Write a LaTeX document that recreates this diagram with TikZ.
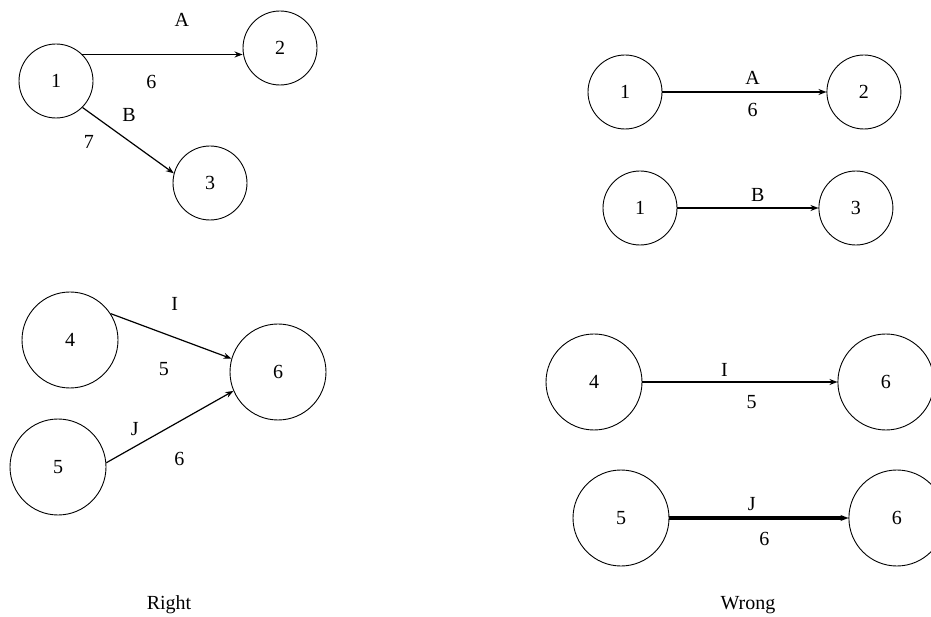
\documentclass[tikz,border=0pt]{standalone}
\usepackage{fontspec}
\setmainfont{Liberation Serif}
\usetikzlibrary{arrows.meta, positioning}

\begin{document}
\begin{tikzpicture}[
  x=1pt, y=1pt,
  font=\fontsize{20}{24}\selectfont,
  >={Stealth[length=8pt, width=6pt]},
  evento/.style={circle, draw, line width=0.9pt, inner sep=0pt, minimum size=74pt},
  eventog/.style={evento, minimum size=96pt},
  flecha/.style={->, line width=1.2pt},
  gruesa/.style={->, line width=3.5pt},
  etiq/.style={inner sep=1pt},
]
\useasboundingbox (0,0) rectangle (931,616);

% --- Izquierda: Right ---
\node[evento] (r1) at (56,535) {1};
\node[evento] (r2) at (280,568) {2};
\node[evento] (r3) at (210,433) {3};
\node[eventog] (r4) at (70,276) {4};
\node[eventog] (r5) at (58,149) {5};
\node[eventog] (r6) at (278,244) {6};

\draw[flecha] (r1.45) -- node[etiq, pos=.62, above=26pt] (lA) {A} node[etiq, pos=.43, below=19pt] (dA) {6} (r1.45 -| r2.west);
\draw[flecha] (r1.-45) -- node[etiq, pos=.51, above=18pt] (lB) {B} node[etiq, pos=.07, below=22pt] (dB) {7} (r3.165);
\draw[flecha] (r4.33) -- node[etiq, pos=.53, above=25pt] (lI) {I} node[etiq, pos=.44, below=27pt] (dI) {5} (r6.164);
\draw[flecha] (r5.5) -- node[etiq, pos=.225, above=9pt] (lJ) {J} node[etiq, pos=.575, below=29pt] (dJ) {6} (r6.203);

% --- Derecha: Wrong ---
\node[evento] (w1) at (625,524) {1};
\node[evento, right=164pt of w1] (w2) {2};
\node[evento] (w1b) at (640,408) {1};
\node[evento, right=141pt of w1b] (w3) {3};
\node[eventog] (w4) at (594,234) {4};
\node[eventog, right=195pt of w4] (w6a) {6};
\node[eventog] (w5) at (621,98) {5};
\node[eventog, right=179pt of w5] (w6b) {6};

\draw[flecha] (w1) -- node[etiq, pos=.55, above=6pt] (wlA) {A} node[etiq, pos=.55, below=10pt] (wdA) {6} (w2);
\draw[flecha] (w1b) -- node[etiq, pos=.57, above=5pt] (wlB) {B} (w3);
\draw[flecha] (w4) -- node[etiq, pos=.42, above=4pt] (wlI) {I} node[etiq, pos=.56, below=12pt] (wdI) {5} (w6a);
\draw[gruesa] (w5) -- node[etiq, pos=.46, above=5pt] (wlJ) {J} node[etiq, pos=.53, below=12pt] (wdJ) {6} (w6b);

% --- Rotulos ---
\node (capR) at (169,11) {Right};
\node (capW) at (748,11) {Wrong};

\end{tikzpicture}
\end{document}
